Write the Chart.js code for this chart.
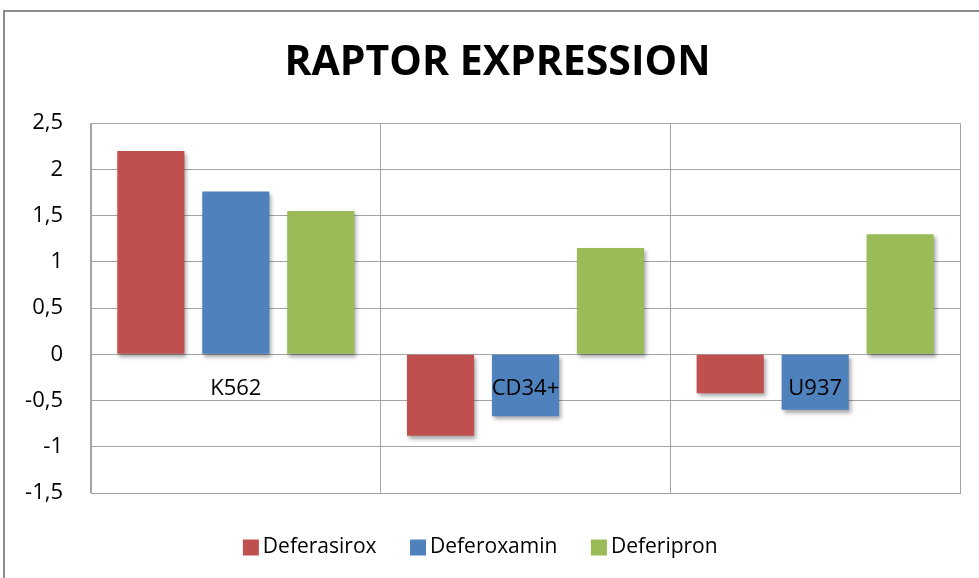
<!DOCTYPE html>
<html>
<head>
<meta charset="utf-8">
<script src="https://cdn.jsdelivr.net/npm/chart.js"></script>
<style>
  html, body { margin: 0; padding: 0; background: #fff; overflow: hidden; width: 979px; height: 578px; }
  #frame { position: absolute; left: 3px; top: 10px; width: 1100px; height: 700px; border: 2px solid #8c8c8c; box-sizing: border-box; }
  #c { position: absolute; left: 0; top: 0; }
</style>
</head>
<body>
<div id="frame"></div>
<canvas id="c" width="979" height="578"></canvas>
<script>
const categories = ['K562', 'CD34+', 'U937'];
const seriesNames = ['Deferasirox', 'Deferoxamin', 'Deferipron'];
const deferasirox = [2.20, -0.88, -0.42];
const deferoxamin = [1.76, -0.67, -0.60];
const deferipron = [1.55, 1.15, 1.30];
const yTicks = [-1.5, -1, -0.5, 0, 0.5, 1, 1.5, 2, 2.5];
const chartTitle = 'RAPTOR EXPRESSION';

const colors = ['#C0504D', '#4F81BD', '#9BBB59'];
const gridColor = '#a3a3a3';
const FONT = "'Open Sans', 'DejaVu Sans', sans-serif";

const shadowPlugin = {
  id: 'barShadow',
  beforeDatasetsDraw(chart) {
    const ctx = chart.ctx;
    ctx.save();
    ctx.shadowColor = 'rgba(0,0,0,0.35)';
    ctx.shadowBlur = 4;
    ctx.shadowOffsetX = 2;
    ctx.shadowOffsetY = 3;
  },
  afterDatasetsDraw(chart) {
    chart.ctx.restore();
  }
};

const titleShiftPlugin = {
  id: 'titleShift',
  afterLayout(chart) {
    if (chart.titleBlock) {
      chart.titleBlock.left += 14;
      chart.titleBlock.right += 14;
    }
  }
};

const catLabelPlugin = {
  id: 'catLabels',
  afterDatasetsDraw(chart) {
    const ctx = chart.ctx;
    const x = chart.scales.x, y = chart.scales.y;
    const y0 = y.getPixelForValue(0);
    ctx.save();
    ctx.font = '22px ' + FONT;
    ctx.fillStyle = '#000';
    ctx.textAlign = 'center';
    ctx.textBaseline = 'middle';
    categories.forEach((c, i) => {
      ctx.fillText(c, x.getPixelForValue(i), y0 + 34);
    });
    ctx.restore();
  }
};

new Chart(document.getElementById('c'), {
  type: 'bar',
  data: {
    labels: categories,
    datasets: [
      { label: seriesNames[0], data: deferasirox, backgroundColor: colors[0] },
      { label: seriesNames[1], data: deferoxamin, backgroundColor: colors[1] },
      { label: seriesNames[2], data: deferipron, backgroundColor: colors[2] }
    ]
  },
  options: {
    responsive: false,
    devicePixelRatio: 1,
    animation: false,
    events: [],
    categoryPercentage: 0.88,
    barPercentage: 0.79,
    layout: { padding: { left: 7, right: 19, top: 0, bottom: 10 } },
    plugins: {
      title: {
        display: true,
        text: chartTitle,
        color: '#000',
        font: { family: FONT, size: 41, weight: 'bold' },
        padding: { top: 39, bottom: 35 }
      },
      legend: {
        position: 'bottom',
        labels: {
          color: '#000',
          font: { family: FONT, size: 21 },
          usePointStyle: true,
          pointStyle: 'rect',
          boxWidth: 3,
          boxHeight: 16,
          padding: 40
        }
      },
      tooltip: { enabled: false }
    },
    scales: {
      x: {
        grid: { display: true, offset: true, color: gridColor, drawTicks: false },
        border: { display: true, color: gridColor },
        ticks: { display: false },
        afterFit(scale) { scale.height = 4; }
      },
      y: {
        min: -1.5,
        max: 2.5,
        afterBuildTicks(scale) { scale.ticks = yTicks.map(v => ({ value: v })); },
        afterFit(scale) { scale.width = 84; },
        grid: { color: gridColor, drawTicks: false },
        border: { display: true, color: gridColor },
        ticks: {
          color: '#000',
          font: { family: FONT, size: 22 },
          padding: 28,
          callback: v => String(v).replace('.', ',')
        }
      }
    }
  },
  plugins: [shadowPlugin, titleShiftPlugin, catLabelPlugin]
});
</script>
</body>
</html>
